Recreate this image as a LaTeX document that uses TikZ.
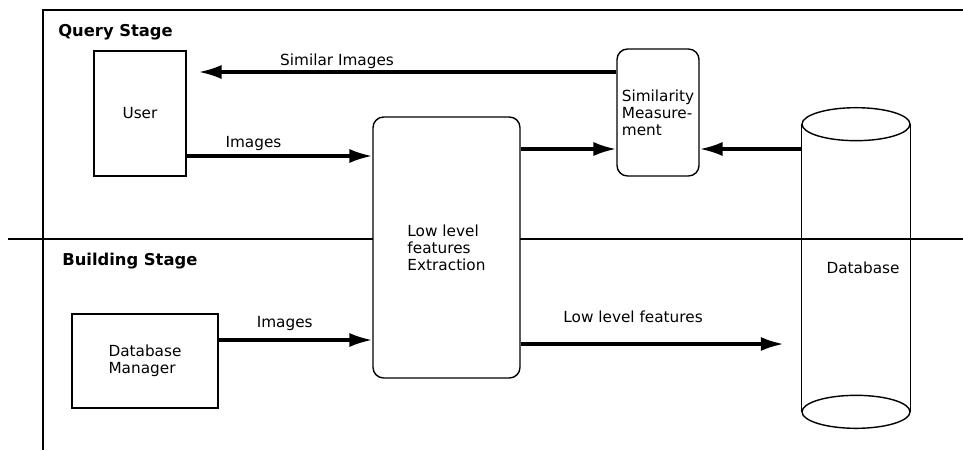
\documentclass[tikz,border=0pt]{standalone}
\usepackage{fontspec}
\setmainfont{DejaVu Sans}
\usetikzlibrary{arrows.meta}

\tikzset{
  box/.style={draw, line width=0.8pt, align=left, font=\fontsize{8.7}{9.7}\selectfont},
  rbox/.style={box, rounded corners=6pt, fill=white},
  flow/.style={line width=1.8pt, -{Latex[length=13pt,width=8pt]}},
  flowlabel/.style={font=\fontsize{8.7}{9.7}\selectfont, inner sep=1pt},
  stage/.style={font=\fontsize{9.3}{11}\selectfont\bfseries, anchor=west, inner sep=0pt}
}

\begin{document}
\begin{tikzpicture}[x=0.02cm, y=-0.02cm]
\useasboundingbox (0,0) rectangle (963,450);

% Frame and stage divider
\draw[line width=0.8pt] (43,450) -- (43,10) -- (963,10);
\draw[line width=1.3pt] (8,239) -- (963,239);

\node[stage] (query) at (58,32) {Query Stage};
\node[stage] (building) at (62,261) {Building Stage};

% Boxes
\node[box, minimum width=1.84cm, minimum height=2.5cm] (user) at (140,113.5) {User};
\node[box, minimum width=2.92cm, minimum height=1.88cm] (dbm) at (145,361) {Database\\Manager};
\node[rbox, minimum width=2.94cm, minimum height=5.22cm] (llfe) at (446.5,247.5) {Low level\\features\\Extraction};
\node[rbox, minimum width=1.64cm, minimum height=2.54cm, inner sep=2pt] (sim) at (658,112.5) {Similarity\\Measure-\\ment};

% Database cylinder
\node[inner sep=0pt, minimum width=2.16cm, minimum height=5.74cm,
      font=\fontsize{8.7}{9.7}\selectfont] (db) at (856,268) {\hspace*{0.28cm}Database};
\draw[line width=0.8pt] (db.north west) -- (db.south west)
                        (db.north east) -- (db.south east);
\draw[line width=0.8pt] (db.north) ellipse [x radius=1.08cm, y radius=0.33cm];
\draw[line width=0.8pt] (db.south) ellipse [x radius=1.08cm, y radius=0.33cm];

% Arrow rows
\coordinate (toprow) at (0,72);
\coordinate (userrow) at (0,156);
\coordinate (simrow) at (0,149);
\coordinate (dbmrow) at (0,340);
\coordinate (featrow) at (0,344);

% Arrows
\draw[flow, shorten >=0.24cm] (sim.west |- toprow) -- (user.east |- toprow)
  node[flowlabel, pos=0.65, above] {Similar Images};
\draw[flow] (user.east |- userrow) -- (llfe.west |- userrow)
  node[flowlabel, pos=0.36, above=1pt] {Images};
\draw[flow] (llfe.east |- simrow) -- (sim.west |- simrow);
\draw[flow] (db.west |- simrow) -- (sim.east |- simrow);
\draw[flow] (dbm.east |- dbmrow) -- (llfe.west |- dbmrow)
  node[flowlabel, pos=0.43, above=3.5pt] {Images};
\draw[flow, shorten >=0.36cm] (llfe.east |- featrow) -- (db.west |- featrow)
  node[flowlabel, pos=0.4, above=10pt] {Low level features};

\end{tikzpicture}
\end{document}
